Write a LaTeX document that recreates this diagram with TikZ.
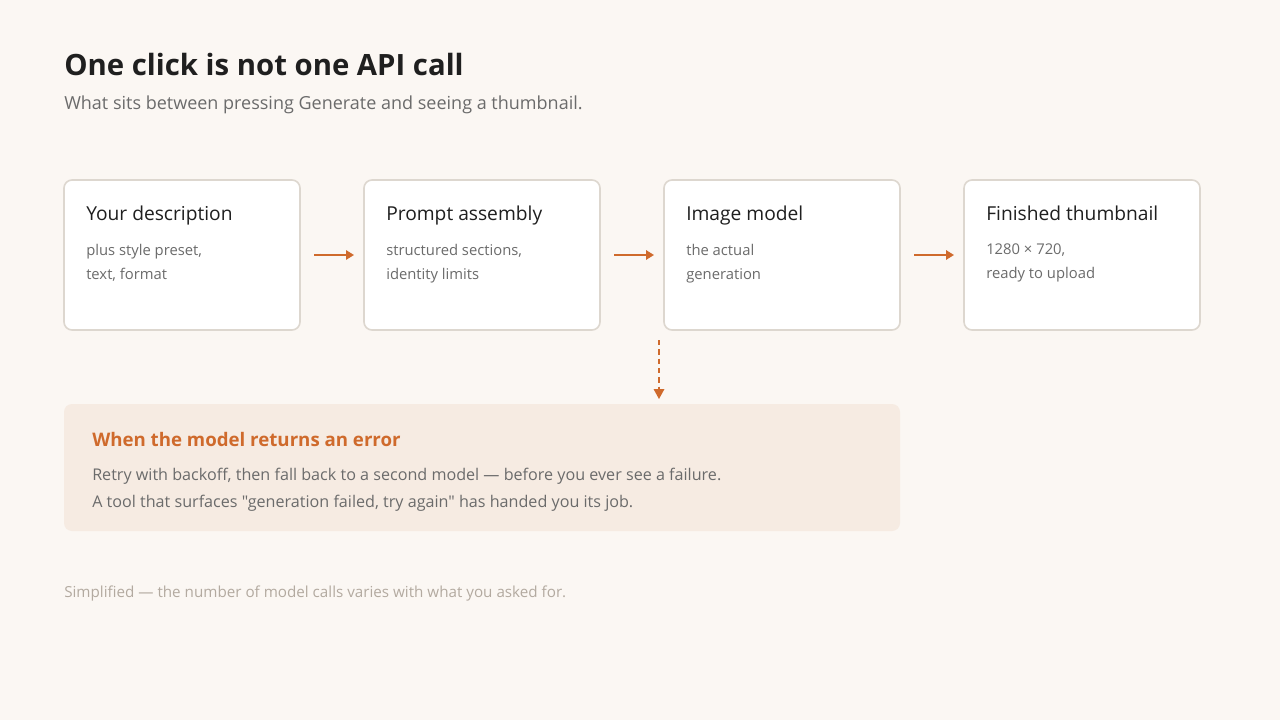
\documentclass[tikz,border=0pt]{standalone}
\usepackage{fontspec}
\setmainfont{Open Sans}[Ligatures=TeXOff]
\usetikzlibrary{arrows.meta}
\definecolor{bg}{HTML}{FBF7F3}
\definecolor{bd}{HTML}{DDD7CF}
\definecolor{org}{HTML}{CF6A2C}
\definecolor{ink}{HTML}{1F1F1F}
\definecolor{gr}{HTML}{6B6B6B}
\definecolor{lg}{HTML}{B3AAA0}
\definecolor{errbg}{HTML}{F6EBE2}
\newcommand{\stepbox}[5]{%
  \draw[box] (#2,180) rectangle ++(236,150);
  \node[ttl] (h#1) at (#2+22,221) {#3};
  \node[bod] (d#1) at (#2+22,244) {#4\\#5};
  \coordinate (R#1) at (#2+250,255);}
\begin{document}
\begin{tikzpicture}[x=0.75pt,y=-0.75pt,
  box/.style={draw=bd,line width=1.2pt,fill=white,rounded corners=6pt},
  ttl/.style={anchor=base west,inner sep=0,font=\fontsize{14.4}{17}\selectfont\color{ink}},
  bod/.style={anchor=north west,inner sep=0,align=left,font=\fontsize{11.1}{18}\selectfont\color{gr}},
  arr/.style={draw=org,line width=1.6pt,-{Triangle[length=6pt,width=7pt]}}]
\fill[bg] (0,0) rectangle (1280,720);
\useasboundingbox (0,0) rectangle (1280,720);
\node[anchor=west,inner sep=0,font=\fontsize{22}{26}\selectfont\bfseries\color{ink}] (t) at (64,65) {One click is not one API call};
\node[anchor=west,inner sep=0,font=\fontsize{13.5}{16}\selectfont\color{gr}] (s) at (64,105) {What sits between pressing Generate and seeing a thumbnail.};
\stepbox{1}{64}{Your description}{plus style preset,}{text, format}
\stepbox{2}{364}{Prompt assembly}{structured sections,}{identity limits}
\stepbox{3}{664}{Image model}{the actual}{generation}
\stepbox{4}{964}{Finished thumbnail}{1280 × 720,}{ready to upload}
\draw[arr] (R1) -- ++(40,0) coordinate (e1);
\draw[arr] (R2) -- ++(40,0) coordinate (e2);
\draw[arr] (R3) -- ++(40,0) coordinate (e3);
\coordinate (v1) at (659,340); \coordinate (v2) at (659,399);
\draw[draw=org,line width=1.6pt,dash pattern=on 4pt off 3pt] (v1) -- (659,390);
\fill[org] (653.5,389) -- (664.5,389) -- (v2) -- cycle;
\fill[errbg,rounded corners=6pt] (64,404) rectangle (900,531);
\node[anchor=west,inner sep=0,font=\fontsize{14}{16}\selectfont\bfseries\color{org}] (et) at (92,439) {When the model returns an error};
\node[anchor=west,inner sep=0,font=\fontsize{12.1}{14}\selectfont\color{gr}] (e1t) at (92,476) {Retry with backoff, then fall back to a second model — before you ever see a failure.};
\node[anchor=west,inner sep=0,font=\fontsize{12.1}{14}\selectfont\color{gr}] (e2t) at (92,503) {A tool that surfaces "generation failed, try again" has handed you its job.};
\node[anchor=west,inner sep=0,font=\fontsize{11.4}{13}\selectfont\color{lg}] (f) at (64,594) {Simplified — the number of model calls varies with what you asked for.};
\end{tikzpicture}
\end{document}
